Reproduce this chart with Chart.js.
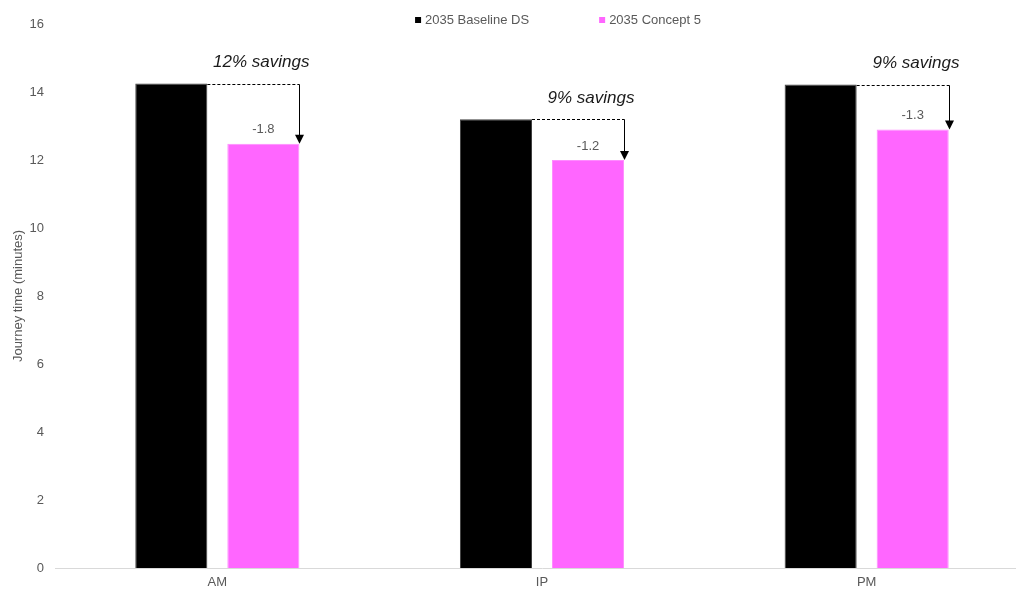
<!DOCTYPE html>
<html>
<head>
<meta charset="utf-8">
<script src="https://cdn.jsdelivr.net/npm/chart.js@4/dist/chart.umd.min.js"></script>
<style>
  html, body { margin: 0; padding: 0; background: #fff; overflow: hidden; }
  #wrap { position: relative; width: 1030px; height: 589px; }
</style>
</head>
<body>
<div id="wrap"><canvas id="myChart"></canvas></div>
<script>
var periods = ["AM", "IP", "PM"];
var baselineTimes = [14.25, 13.2, 14.22];
var conceptTimes = [12.48, 12.0, 12.9];
var yTicks = [0, 2, 4, 6, 8, 10, 12, 14, 16];

var grey = '#595959';
var fontFamily = '"Liberation Sans", Arial, sans-serif';
Chart.defaults.font.family = fontFamily;
Chart.defaults.color = grey;

// small square-marker legend across the top
var topLegendPlugin = {
  id: 'topLegend',
  afterDraw: function(chart) {
    var ctx = chart.ctx;
    var sets = chart.data.datasets;
    var box = 6, boxGap = 4, itemGap = 70, y = 20;
    ctx.save();
    ctx.font = '13px ' + fontFamily;
    ctx.textBaseline = 'middle';
    ctx.textAlign = 'left';
    var widths = sets.map(function(ds) { return box + boxGap + ctx.measureText(ds.label).width; });
    var total = widths.reduce(function(a, b) { return a + b; }, 0) + itemGap * (sets.length - 1);
    var x = 558 - total / 2;
    sets.forEach(function(ds, i) {
      ctx.fillStyle = ds.backgroundColor;
      ctx.fillRect(x, y - box / 2, box, box);
      ctx.fillStyle = grey;
      ctx.fillText(ds.label, x + box + boxGap, y + 0.5);
      x += widths[i] + itemGap;
    });
    ctx.restore();
  }
};

// arrows, "x% savings" and the difference labels over each pair of bars
var savingsPlugin = {
  id: 'savings',
  afterDatasetsDraw: function(chart) {
    var ctx = chart.ctx;
    var base = chart.getDatasetMeta(0).data;
    var conc = chart.getDatasetMeta(1).data;
    ctx.save();
    for (var i = 0; i < periods.length; i++) {
      var b = base[i], c = conc[i];
      var diff = conceptTimes[i] - baselineTimes[i];
      var pct = Math.round(-diff / baselineTimes[i] * 100);
      var xStart = b.x + b.width / 2;
      var xArrow = Math.round(c.x + c.width / 2) + 0.5;
      var yTop = Math.round(b.y) + 0.5;

      // dashed line across from the baseline top
      ctx.strokeStyle = '#000';
      ctx.lineWidth = 1;
      ctx.setLineDash([3, 2]);
      ctx.beginPath();
      ctx.moveTo(xStart, yTop);
      ctx.lineTo(xArrow, yTop);
      ctx.stroke();

      // solid arrow down to the concept bar
      ctx.setLineDash([]);
      ctx.beginPath();
      ctx.moveTo(xArrow, yTop);
      ctx.lineTo(xArrow, c.y - 8);
      ctx.stroke();
      ctx.fillStyle = '#000';
      ctx.beginPath();
      ctx.moveTo(xArrow - 4.5, c.y - 9);
      ctx.lineTo(xArrow + 4.5, c.y - 9);
      ctx.lineTo(xArrow, c.y);
      ctx.closePath();
      ctx.fill();

      // difference label above the concept bar
      ctx.fillStyle = grey;
      ctx.font = '13px ' + fontFamily;
      ctx.textAlign = 'center';
      ctx.textBaseline = 'middle';
      ctx.fillText(diff.toFixed(1), c.x, c.y - 14);

      // savings text
      ctx.fillStyle = '#1a1a1a';
      ctx.font = 'italic 17px ' + fontFamily;
      ctx.textAlign = 'right';
      ctx.fillText(pct + '% savings', xArrow + 10, b.y - 21);
    }
    ctx.restore();
  }
};

var ctx = document.getElementById("myChart").getContext('2d');
var myChart = new Chart(ctx, {
  type: 'bar',
  data: {
    labels: periods,
    datasets: [{
      label: '2035 Baseline DS',
      data: baselineTimes,
      backgroundColor: '#000000',
      borderColor: '#404040',
      borderWidth: 1
    }, {
      label: '2035 Concept 5',
      data: conceptTimes,
      backgroundColor: '#FF66FF',
      borderColor: '#FF8CFF',
      borderWidth: 1
    }]
  },
  options: {
    responsive: true,
    maintainAspectRatio: false,
    animation: false,
    categoryPercentage: 0.567,
    barPercentage: 0.783,
    layout: { padding: { top: 24, right: 1, bottom: 0, left: 4 } },
    plugins: {
      legend: { display: false },
      tooltip: { enabled: false }
    },
    scales: {
      x: {
        grid: { display: false, drawTicks: false },
        border: { display: true, color: '#d9d9d9', width: 1 },
        ticks: { padding: 7, color: grey, font: { size: 13 } },
        afterFit: function(scale) { scale.height = 21; }
      },
      y: {
        min: 0,
        max: 16,
        afterBuildTicks: function(axis) {
          axis.ticks = yTicks.map(function(v) { return { value: v }; });
        },
        afterFit: function(scale) { scale.width = 51; },
        grid: { display: false, drawTicks: false },
        border: { display: false },
        ticks: { padding: 11, color: grey, font: { size: 13 } },
        title: {
          display: true,
          text: 'Journey time (minutes)',
          color: grey,
          font: { size: 13 },
          padding: { top: 7, bottom: 5 }
        }
      }
    }
  },
  plugins: [savingsPlugin, topLegendPlugin]
});
</script>
</body>
</html>
